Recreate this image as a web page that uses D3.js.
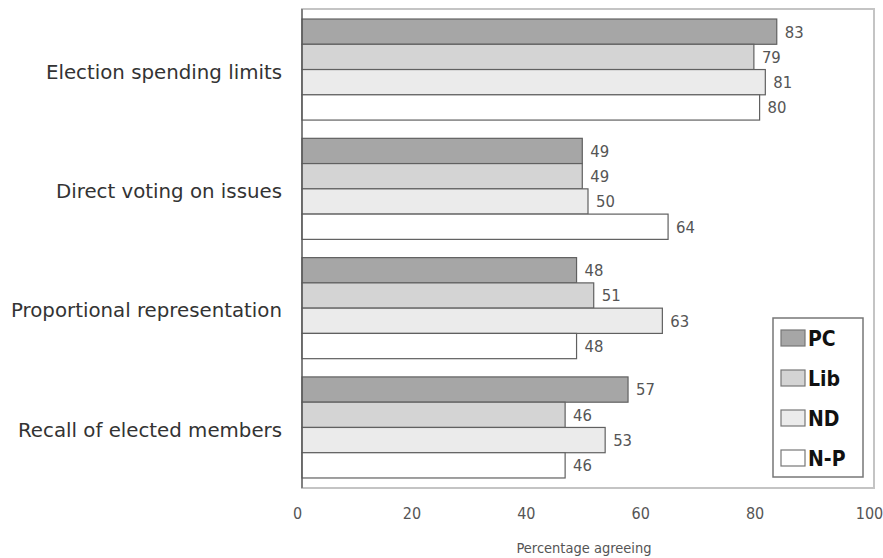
<!DOCTYPE html>
<html>
<head>
<meta charset="utf-8">
<script src="https://cdn.jsdelivr.net/npm/d3@7"></script>
<style>
  html, body { margin: 0; padding: 0; background: #fff; }
  svg { display: block; }
</style>
</head>
<body>
<svg id="chart" width="883" height="558"></svg>
<script>
const categories = ["Election spending limits", "Direct voting on issues", "Proportional representation", "Recall of elected members"];
const seriesNames = ["PC", "Lib", "ND", "N-P"];
const seriesColors = ["#a6a6a6", "#d4d4d4", "#ebebeb", "#ffffff"];
const PC  = [83, 49, 48, 57];
const Lib = [79, 49, 51, 46];
const ND  = [81, 50, 63, 53];
const NP  = [80, 64, 48, 46];
const seriesValues = [PC, Lib, ND, NP];
const xTicks = [0, 20, 40, 60, 80, 100];
const xTitle = "Percentage agreeing";

(function () {
const font = "'DejaVu Sans Condensed', 'DejaVu Sans', sans-serif";
const catFont = "'DejaVu Sans', sans-serif";
const svg = d3.select("#chart");
const pLeft = 302, pRight = 874, pTop = 9, pBottom = 488;

const x = d3.scaleLinear().domain([0, 100]).range([pLeft, pRight]);
const y0 = d3.scaleBand().domain(categories).range([pTop, pBottom]).paddingInner(0.153).paddingOuter(0.084);
const y1 = d3.scaleBand().domain(seriesNames).range([0, y0.bandwidth()]);

// frame
svg.append("rect").attr("x", pLeft).attr("y", pTop).attr("width", pRight - pLeft).attr("height", pBottom - pTop)
  .attr("fill", "none").attr("stroke", "#c4c4c4").attr("stroke-width", 2);

const rows = categories.map((c, i) => ({cat: c, vals: seriesNames.map((s, j) => ({s, j, v: seriesValues[j][i]}))}));

const g = svg.append("g");
const grp = g.selectAll("g.grp").data(rows).join("g").attr("class", "grp")
  .attr("transform", d => `translate(0,${y0(d.cat)})`);

grp.selectAll("rect").data(d => d.vals).join("rect")
  .attr("x", x(0))
  .attr("y", d => y1(d.s))
  .attr("width", d => x(d.v) - x(0))
  .attr("height", y1.bandwidth())
  .attr("fill", d => seriesColors[d.j])
  .attr("stroke", "#606060")
  .attr("stroke-width", 1.2);

grp.selectAll("text.val").data(d => d.vals).join("text").attr("class", "val")
  .attr("x", d => x(d.v) + 8)
  .attr("y", d => y1(d.s) + y1.bandwidth() / 2)
  .attr("dy", "0.36em")
  .attr("font-family", font).attr("font-size", 16.5).attr("fill", "#555")
  .text(d => d.v);

// left axis line
svg.append("line").attr("x1", pLeft).attr("x2", pLeft).attr("y1", pTop).attr("y2", pBottom)
  .attr("stroke", "#555").attr("stroke-width", 1.2);

// category labels
svg.selectAll("text.cat").data(categories).join("text").attr("class", "cat")
  .attr("x", 282)
  .attr("y", d => y0(d) + y0.bandwidth() / 2 + 2)
  .attr("dy", "0.36em")
  .attr("text-anchor", "end")
  .attr("font-family", catFont).attr("font-size", 19.8).attr("fill", "#333")
  .text(d => d);

// x axis
const xAxis = d3.axisBottom(x).tickValues(xTicks).tickSize(0).tickPadding(0);
const ax = svg.append("g").attr("transform", `translate(-5,${pBottom + 25})`).call(xAxis);
ax.select(".domain").remove();
ax.selectAll("text").attr("font-family", font).attr("font-size", 16).attr("fill", "#555").attr("dy", "0.36em").attr("y", 0);

svg.append("text").attr("x", 584).attr("y", 548).attr("dy", "0.36em").attr("text-anchor", "middle")
  .attr("font-family", font).attr("font-size", 14.5).attr("fill", "#555").text(xTitle);

// legend
const lg = svg.append("g");
lg.append("rect").attr("x", 773).attr("y", 318).attr("width", 90).attr("height", 159)
  .attr("fill", "#fff").attr("stroke", "#777").attr("stroke-width", 1.5);
const ly = d3.scalePoint().domain(seriesNames).range([338, 458]);
const items = lg.selectAll("g.item").data(seriesNames).join("g").attr("class", "item")
  .attr("transform", d => `translate(0,${ly(d)})`);
items.append("rect").attr("x", 781).attr("y", -8).attr("width", 24).attr("height", 16)
  .attr("fill", (d, i) => seriesColors[i]).attr("stroke", "#777").attr("stroke-width", 1.2);
items.append("text").attr("x", 808).attr("y", 0).attr("dy", "0.36em")
  .attr("font-family", font).attr("font-weight", "bold").attr("font-size", 21).attr("fill", "#111")
  .text(d => d);
})();
</script>
</body>
</html>
